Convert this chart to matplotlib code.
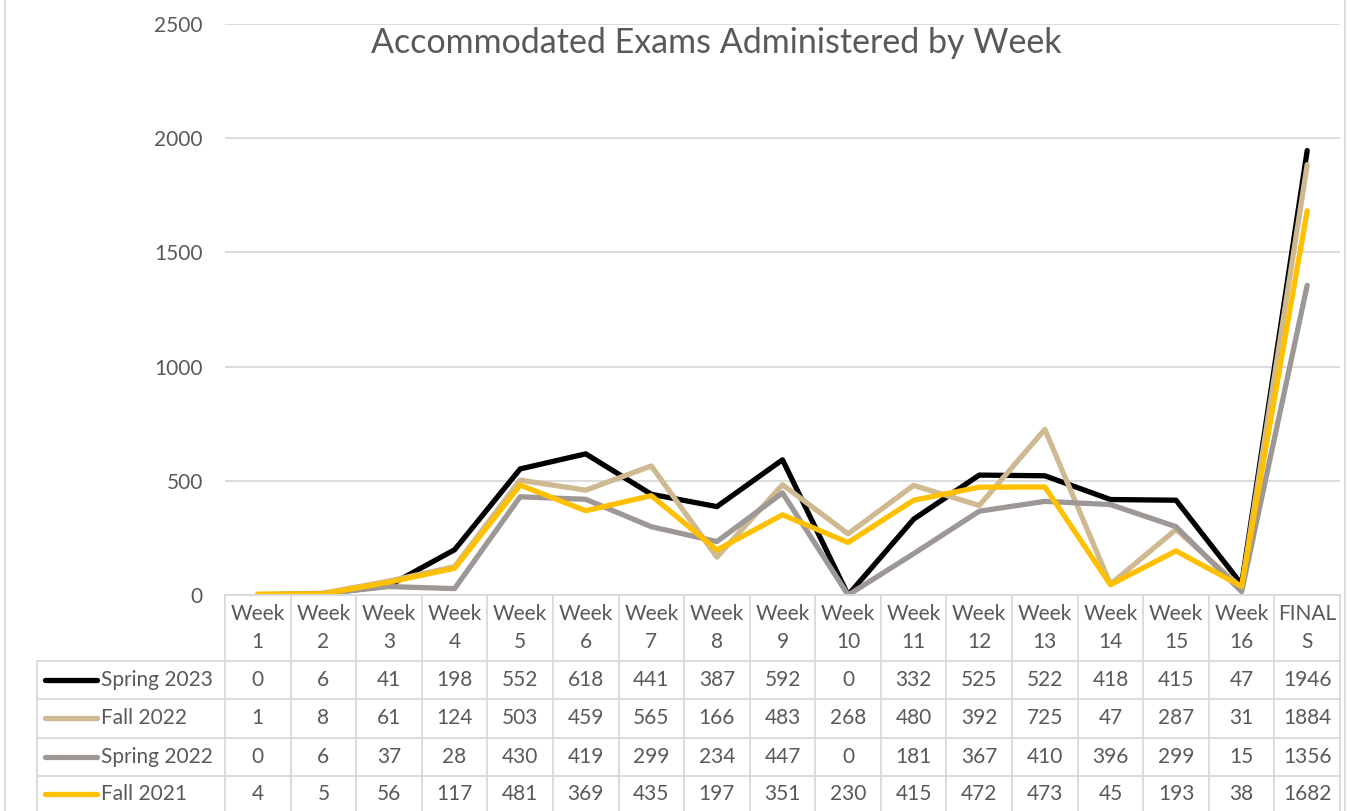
import matplotlib
matplotlib.use('Agg')
import matplotlib.pyplot as plt
from matplotlib.transforms import blended_transform_factory
from matplotlib.lines import Line2D

plt.rcParams['font.family'] = ['Lato', 'DejaVu Sans']

weeks = ['Week\n%d' % i for i in range(1, 17)] + ['FINAL\nS']
spring_2023 = [0, 6, 41, 198, 552, 618, 441, 387, 592, 0, 332, 525, 522, 418, 415, 47, 1946]
fall_2022 = [1, 8, 61, 124, 503, 459, 565, 166, 483, 268, 480, 392, 725, 47, 287, 31, 1884]
spring_2022 = [0, 6, 37, 28, 430, 419, 299, 234, 447, 0, 181, 367, 410, 396, 299, 15, 1356]
fall_2021 = [4, 5, 56, 117, 481, 369, 435, 197, 351, 230, 415, 472, 473, 45, 193, 38, 1682]

series = [('Spring 2023', spring_2023, '#000000'),
          ('Fall 2022', fall_2022, '#CFB991'),
          ('Spring 2022', spring_2022, '#9D9795'),
          ('Fall 2021', fall_2021, '#FFC000')]

W, H = 1350, 811
txt = '#595959'
grid = '#D9D9D9'
fs = 15

fig = plt.figure(figsize=(W / 100, H / 100), dpi=100)
ax = fig.add_axes([225 / W, 1 - 595 / H, 1115 / W, 571 / H])

x = list(range(len(weeks)))
for name, vals, col in series:
    ax.plot(x, vals, color=col, lw=3.8, solid_capstyle='round', solid_joinstyle='round')

ax.set_xlim(-0.5, len(weeks) - 0.5)
ax.set_ylim(0, 2500)
ax.set_yticks(range(0, 2501, 500))
ax.tick_params(axis='y', length=0, pad=16, labelsize=fs, labelcolor=txt)
ax.set_xticks([])
for s in ax.spines.values():
    s.set_visible(False)
ax.grid(axis='y', color=grid, lw=1.3)
ax.set_axisbelow(True)

ax.text(0.441, 0.995, 'Accommodated Exams Administered by Week', transform=ax.transAxes,
        ha='center', va='top', fontsize=24.5, color=txt)

# data table below the plot
tr = blended_transform_factory(ax.transData, fig.transFigure)
fy = lambda py: 1 - py / H
fx = lambda px: px / W

def hline(y0, xa, xb):
    fig.add_artist(Line2D([fx(xa), fx(xb)], [fy(y0), fy(y0)], color=grid, lw=1.3))

def vline(xp, ya, yb):
    fig.add_artist(Line2D([fx(xp), fx(xp)], [fy(ya), fy(yb)], color=grid, lw=1.3))

hline(595, 225, 1340)
for yy in [661, 699, 738, 776]:
    hline(yy, 37, 1340)
col_w = 1115 / len(weeks)
for i in range(len(weeks) + 1):
    vline(225 + i * col_w, 595, 811)
vline(37, 661, 811)
# outer chart border
vline(5, 0, 811)
vline(1345, 0, 811)

for i, lab in enumerate(weeks):
    ax.text(i, fy(628), lab, transform=tr, ha='center', va='center',
            fontsize=fs, color=txt, linespacing=1.5)

row_c = [680, 718, 757, 794]
for (name, vals, col), yc in zip(series, row_c):
    fig.add_artist(Line2D([fx(45), fx(97)], [fy(yc), fy(yc)], color=col, lw=3.8,
                          solid_capstyle='round'))
    fig.text(fx(101), fy(yc), name, ha='left', va='center', fontsize=fs, color=txt)
    for i, v in enumerate(vals):
        ax.text(i, fy(yc), str(v), transform=tr, ha='center', va='center',
                fontsize=fs, color=txt)

fig.savefig('out.png', dpi=100, facecolor='white')
